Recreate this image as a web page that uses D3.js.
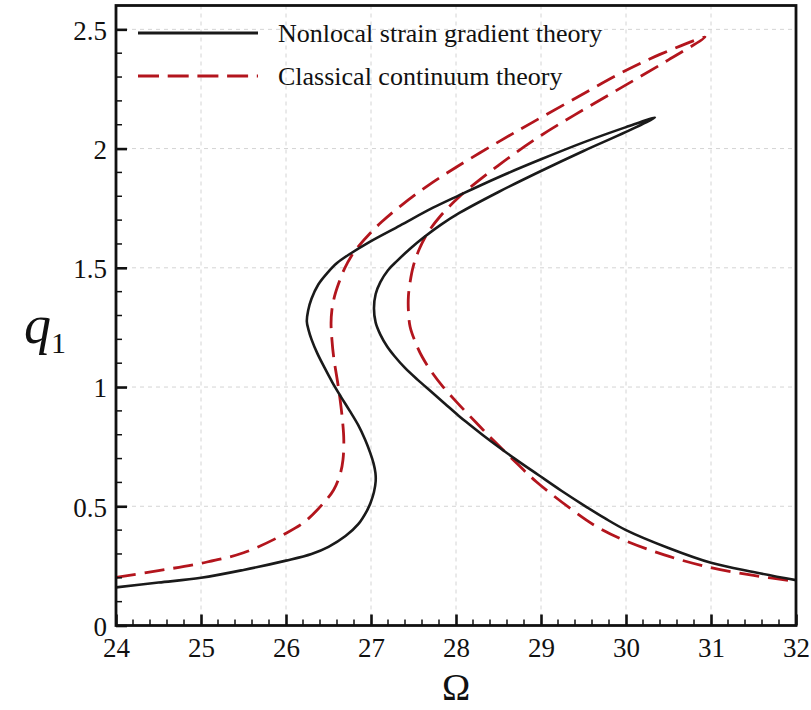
<!DOCTYPE html>
<html>
<head>
<meta charset="utf-8">
<script src="https://cdn.jsdelivr.net/npm/d3@7/dist/d3.min.js"></script>
<style>
  html, body { margin: 0; padding: 0; background: #fff; }
  svg { display: block; }
  text { font-family: "Liberation Serif", "Times New Roman", serif; fill: #111; }
</style>
</head>
<body>
<svg id="chart" width="811" height="710"></svg>
<script>
// Frequency-response curves: amplitude q1 against excitation frequency Omega.
// Each path follows the whole response branch, including the unstable middle part.
const nsgtOmega = [
  24.00, 24.50, 25.00, 25.50, 26.00, 26.30, 26.50, 26.70, 26.85, 26.95, 26.995, 27.035, 27.055, 27.052,
  27.03, 26.99, 26.93, 26.85, 26.75, 26.645, 26.545, 26.455, 26.37, 26.30, 26.265, 26.245,
  26.26, 26.30, 26.38, 26.49, 26.60, 26.76, 26.99, 27.34, 27.73, 28.03, 28.50, 29.00, 29.50, 30.00, 30.34,
  30.00, 29.50, 29.00, 28.50, 28.04, 27.82, 27.63, 27.46, 27.31, 27.20, 27.11, 27.055, 27.035,
  27.055, 27.11, 27.19, 27.28, 27.40, 27.55, 27.71, 27.87, 28.03, 28.14, 28.31, 28.47, 28.69,
  28.97, 29.24, 29.50, 29.75, 30.00, 30.50, 31.00, 31.50, 32.00];
const nsgtQ = [
  0.160, 0.180, 0.200, 0.233, 0.272, 0.300, 0.330, 0.375, 0.425, 0.480, 0.515, 0.560, 0.605, 0.640,
  0.680, 0.725, 0.780, 0.840, 0.900, 0.960, 1.020, 1.080, 1.140, 1.200, 1.240, 1.275,
  1.320, 1.370, 1.430, 1.480, 1.520, 1.560, 1.610, 1.677, 1.752, 1.803, 1.880, 1.955, 2.026, 2.090, 2.130,
  2.070, 1.990, 1.906, 1.818, 1.730, 1.680, 1.630, 1.580, 1.530, 1.490, 1.440, 1.390, 1.330,
  1.270, 1.220, 1.170, 1.128, 1.080, 1.030, 0.980, 0.930, 0.880, 0.848, 0.800, 0.757, 0.700,
  0.631, 0.565, 0.505, 0.450, 0.400, 0.325, 0.263, 0.224, 0.190];

const classicalOmega = [
  24.00, 24.50, 25.00, 25.50, 26.00, 26.22, 26.44, 26.56, 26.64, 26.67, 26.68,
  26.66, 26.62, 26.56, 26.54, 26.53, 26.54, 26.57, 26.62, 26.69, 26.77, 26.85, 26.99, 27.13,
  27.35, 27.67, 28.03, 28.50, 28.90, 29.40, 29.93, 30.40, 30.93,
  30.50, 30.00, 29.50, 29.00, 28.50, 28.03, 27.80, 27.67, 27.57, 27.50, 27.46, 27.44, 27.44,
  27.46, 27.52, 27.60, 27.72, 27.85, 28.00, 28.145, 28.32, 28.475, 28.715, 28.945,
  29.37, 29.63, 29.95, 30.45, 30.98, 31.50, 32.00];
const classicalQ = [
  0.202, 0.230, 0.261, 0.305, 0.387, 0.435, 0.513, 0.568, 0.638, 0.694, 0.778,
  0.876, 0.990, 1.128, 1.200, 1.268, 1.323, 1.379, 1.435, 1.498, 1.550, 1.589, 1.645, 1.694,
  1.760, 1.845, 1.928, 2.028, 2.110, 2.210, 2.315, 2.395, 2.467,
  2.372, 2.267, 2.163, 2.055, 1.930, 1.795, 1.710, 1.648, 1.580, 1.510, 1.440, 1.380, 1.320,
  1.253, 1.190, 1.128, 1.060, 1.000, 0.940, 0.885, 0.820, 0.764, 0.680, 0.603,
  0.484, 0.420, 0.362, 0.296, 0.244, 0.210, 0.185];

const xTicks = [24, 25, 26, 27, 28, 29, 30, 31, 32];
const yTicks = [0, 0.5, 1, 1.5, 2, 2.5];
const yTickLabels = ["0", "0.5", "1", "1.5", "2", "2.5"];
const legendLabels = ["Nonlocal strain gradient theory", "Classical continuum theory"];

const svg = d3.select("#chart");
const plotLeft = 116, plotRight = 796, plotTop = 5.5, plotBottom = 625.5;

const x = d3.scaleLinear().domain([24, 32]).range([plotLeft, plotRight]);
const y = d3.scaleLinear().domain([0, 2.6]).range([plotBottom, plotTop]);

// dashed grid
const grid = svg.append("g").attr("stroke", "#d4d4d4").attr("stroke-width", 1)
  .attr("stroke-dasharray", "4,4");
grid.selectAll("line.gx").data(xTicks.slice(1, -1)).join("line").attr("class", "gx")
  .attr("x1", d => x(d)).attr("x2", d => x(d)).attr("y1", plotTop).attr("y2", plotBottom);
grid.selectAll("line.gy").data(yTicks.slice(1)).join("line").attr("class", "gy")
  .attr("y1", d => y(d)).attr("y2", d => y(d)).attr("x1", plotLeft).attr("x2", plotRight);

// curves, clipped to the plotting frame
svg.append("clipPath").attr("id", "plotclip").append("rect")
  .attr("x", plotLeft).attr("y", plotTop)
  .attr("width", plotRight - plotLeft).attr("height", plotBottom - plotTop);

const line = d3.line().x(d => x(d[0])).y(d => y(d[1]))
  .curve(d3.curveCatmullRom.alpha(0.5));

const nsgt = nsgtOmega.map((w, i) => [w, nsgtQ[i]]);
const classical = classicalOmega.map((w, i) => [w, classicalQ[i]]);

const curves = svg.append("g").attr("clip-path", "url(#plotclip)");
curves.append("path").attr("d", line(classical))
  .attr("fill", "none").attr("stroke", "#b3151d").attr("stroke-width", 2.8)
  .attr("stroke-dasharray", "20,9");
curves.append("path").attr("d", line(nsgt))
  .attr("fill", "none").attr("stroke", "#1a1a1a").attr("stroke-width", 2.6)
  .attr("stroke-linejoin", "round");

// axes with inward ticks
const xAxis = d3.axisBottom(x).tickValues(xTicks).tickSize(-11).tickPadding(18)
  .tickFormat(d3.format("d"));
const gx = svg.append("g").attr("transform", `translate(0,${plotBottom})`).call(xAxis);
const yAxis = d3.axisLeft(y).tickValues(yTicks).tickSize(-11).tickPadding(9)
  .tickFormat((d, i) => yTickLabels[i]);
const gy = svg.append("g").attr("transform", `translate(${plotLeft},0)`).call(yAxis);

[gx, gy].forEach(g => {
  g.attr("font-family", null).attr("font-size", null);
  g.select(".domain").remove();
  g.selectAll(".tick line").attr("stroke", "#111").attr("stroke-width", 2.6);
  g.selectAll(".tick text").style("font-family", '"Liberation Serif", "Times New Roman", serif')
    .style("font-size", "27px").attr("fill", "#111");
});
gx.selectAll(".tick text").attr("dy", "0.5em");
gy.selectAll(".tick text").attr("dy", "0.36em");

// minor ticks
const xMinor = d3.range(24.2, 32, 0.2).filter(v => Math.abs(v - Math.round(v)) > 1e-6);
const yMinor = d3.range(0.1, 2.6, 0.1).filter(v => Math.abs(v * 2 - Math.round(v * 2)) > 1e-6);
svg.append("g").selectAll("line").data(xMinor).join("line")
  .attr("x1", d => x(d)).attr("x2", d => x(d)).attr("y1", plotBottom).attr("y2", plotBottom - 6)
  .attr("stroke", "#111").attr("stroke-width", 1.5);
svg.append("g").selectAll("line").data(yMinor).join("line")
  .attr("y1", d => y(d)).attr("y2", d => y(d)).attr("x1", plotLeft).attr("x2", plotLeft + 6)
  .attr("stroke", "#111").attr("stroke-width", 1.5);

// frame
svg.append("rect").attr("x", plotLeft).attr("y", plotTop).attr("width", plotRight - plotLeft)
  .attr("height", plotBottom - plotTop).attr("fill", "none").attr("stroke", "#111")
  .attr("stroke-width", 2.8);

// axis titles
svg.append("text").attr("x", (plotLeft + plotRight) / 2).attr("y", 700)
  .attr("text-anchor", "middle").style("font-size", "38px").text("Ω");
const yt = svg.append("text").attr("x", 24).attr("y", 343).style("font-size", "54px");
yt.append("tspan").style("font-style", "italic").text("q");
yt.append("tspan").attr("dy", 10).style("font-size", "30px").text("1");

// legend
const legend = svg.append("g");
const legendY = [33, 76];
legend.append("line").attr("x1", 138).attr("x2", 258).attr("y1", legendY[0]).attr("y2", legendY[0])
  .attr("stroke", "#1a1a1a").attr("stroke-width", 2.8);
legend.append("line").attr("x1", 138).attr("x2", 258).attr("y1", legendY[1]).attr("y2", legendY[1])
  .attr("stroke", "#b3151d").attr("stroke-width", 2.8).attr("stroke-dasharray", "21,8.7");
legend.selectAll("text").data(legendLabels).join("text")
  .attr("x", 278).attr("y", (d, i) => legendY[i] + 9)
  .style("font-size", "26px").text(d => d);
</script>
</body>
</html>
